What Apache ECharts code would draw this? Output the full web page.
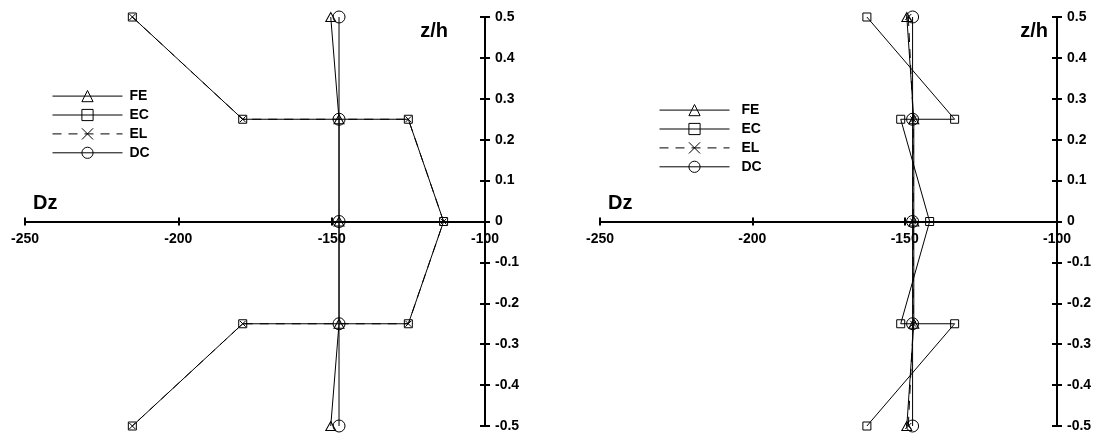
<!DOCTYPE html>
<html>
<head>
<meta charset="utf-8">
<script src="https://cdn.jsdelivr.net/npm/echarts@6/dist/echarts.min.js"></script>
<style>
html,body{margin:0;padding:0;background:#fff;}
#chart{width:1103px;height:436px;}
</style>
</head>
<body>
<div id="chart"></div>
<script>
// ---- data ----
const seriesNames = ['FE', 'EC', 'EL', 'DC'];
const xTicks = [-250, -200, -150, -100];
const yTickLabels = ['-0.5','-0.4','-0.3','-0.2','-0.1','0','0.1','0.2','0.3','0.4','0.5'];
// z/h levels
const zProfile = [0.5, 0.25, 0, -0.25, -0.5];
const zInterface = [0.5, 0.25, 0.25, 0, -0.25, -0.25, -0.5];
// left chart
const leftFE = [-150.3, -147.6, -147.6, -147.6, -150.3];
const leftEC = [-215, -179, -125, -113.5, -125, -179, -215];
const leftEL = [-215, -179, -125, -113.5, -125, -179, -215];
const leftDC = [-147.6, -147.6, -147.6, -147.6, -147.6];
// right chart
const rightFE = [-149.3, -147, -147, -147, -149.3];
const rightEC = [-162.4, -133.6, -151.3, -141.8, -151.3, -133.6, -162.4];
const rightEL = [-148.8, -147.2, -147.2, -147.2, -148.8];
const rightDC = [-147.4, -147.4, -147.4, -147.4, -147.4];

const zip = (xs, zs) => xs.map((x, i) => [x, zs[i]]);

const FONT = 'Liberation Sans, Arial, sans-serif';
const chart = echarts.init(document.getElementById('chart'));

const symbols = {
  FE: { symbol: 'triangle', symbolSize: [10, 9] },
  EC: { symbol: 'rect', symbolSize: 8 },
  EL: { symbol: 'path://M0,0L10,10M10,0L0,10', symbolSize: 6 },
  DC: { symbol: 'circle', symbolSize: 12 }
};

function makeSeries(name, data, gi) {
  return {
    name: name,
    type: 'line',
    xAxisIndex: gi * 2,
    yAxisIndex: gi * 2,
    data: data,
    symbol: symbols[name].symbol,
    symbolSize: symbols[name].symbolSize,
    showAllSymbol: true,
    clip: false,
    silent: true,
    lineStyle: { color: '#000', width: 1, type: name === 'EL' ? [9, 7] : 'solid' },
    itemStyle: { color: 'none', borderColor: '#000', borderWidth: 1 },
    emphasis: { disabled: true }
  };
}

const grids = [
  { left: 25, top: 17, width: 460, height: 409 },
  { left: 600, top: 17, width: 457, height: 409 }
];
const zhPad = [37, 9];

const xAxes = [], yAxes = [];
grids.forEach((g, gi) => {
  const baseX = {
    type: 'value', gridIndex: gi, min: xTicks[0], max: xTicks[xTicks.length - 1], interval: 50,
    position: 'bottom', offset: -g.height / 2, splitLine: { show: false }
  };
  xAxes.push(Object.assign({}, baseX, {
    name: 'Dz', nameLocation: 'start', nameGap: -8,
    nameTextStyle: { fontFamily: FONT, fontWeight: 'bold', fontSize: 20, color: '#000', align: 'left', verticalAlign: 'bottom', padding: [0, 0, 8, 0] },
    axisLine: { onZero: false, lineStyle: { color: '#000', width: 2 } },
    axisTick: { show: true, inside: false, length: 4, lineStyle: { color: '#000', width: 2 } },
    axisLabel: { show: true, margin: 11, fontFamily: FONT, fontWeight: 'bold', fontSize: 14, color: '#000',
      formatter: v => String(v) }
  }));
  xAxes.push(Object.assign({}, baseX, {
    axisLine: { onZero: false, show: false },
    axisTick: { show: true, inside: true, length: 4, lineStyle: { color: '#000', width: 2 } },
    axisLabel: { show: false }
  }));
  const baseY = {
    type: 'value', gridIndex: gi, min: -0.5, max: 0.5, interval: 0.1,
    position: 'right', splitLine: { show: false }
  };
  yAxes.push(Object.assign({}, baseY, {
    name: 'z/h', nameLocation: 'end', nameGap: -4,
    nameTextStyle: { fontFamily: FONT, fontWeight: 'bold', fontSize: 20, color: '#000', align: 'right', verticalAlign: 'top', padding: [0, zhPad[gi], 0, 0] },
    axisLine: { onZero: false, lineStyle: { color: '#000', width: 2 } },
    axisTick: { show: true, inside: false, length: 5, lineStyle: { color: '#000', width: 2 } },
    axisLabel: { show: true, margin: 10, fontFamily: FONT, fontWeight: 'bold', fontSize: 14, color: '#000',
      formatter: v => yTickLabels[Math.round((v + 0.5) * 10)] }
  }));
  yAxes.push(Object.assign({}, baseY, {
    axisLine: { onZero: false, show: false },
    axisTick: { show: true, inside: true, length: 5, lineStyle: { color: '#000', width: 2 } },
    axisLabel: { show: false }
  }));
});

const series = [
  makeSeries('FE', zip(leftFE, zProfile), 0),
  makeSeries('EC', zip(leftEC, zInterface), 0),
  makeSeries('EL', zip(leftEL, zInterface), 0),
  makeSeries('DC', zip(leftDC, zProfile), 0),
  makeSeries('FE', zip(rightFE, zProfile), 1),
  makeSeries('EC', zip(rightEC, zInterface), 1),
  makeSeries('EL', zip(rightEL, zProfile), 1),
  makeSeries('DC', zip(rightDC, zProfile), 1)
];

const legendBase = {
  data: seriesNames, orient: 'vertical', itemWidth: 70, itemHeight: 14, itemGap: 2.7,
  padding: 0,
  selectedMode: false,
  itemStyle: { borderWidth: 1 },
  lineStyle: { width: 1, color: '#000' },
  textStyle: { fontFamily: FONT, fontWeight: 'bold', fontSize: 14, lineHeight: 14, color: '#000', padding: [0, 0, 0, 2] }
};

chart.setOption({
  animation: false,
  backgroundColor: '#fff',
  grid: grids,
  xAxis: xAxes,
  yAxis: yAxes,
  legend: [
    Object.assign({}, legendBase, { left: 52, top: 88 }),
    Object.assign({}, legendBase, { left: 659, top: 102, textStyle: Object.assign({}, legendBase.textStyle, { padding: [0, 0, 0, 7] }) })
  ],
  series: series
});
</script>
</body>
</html>
